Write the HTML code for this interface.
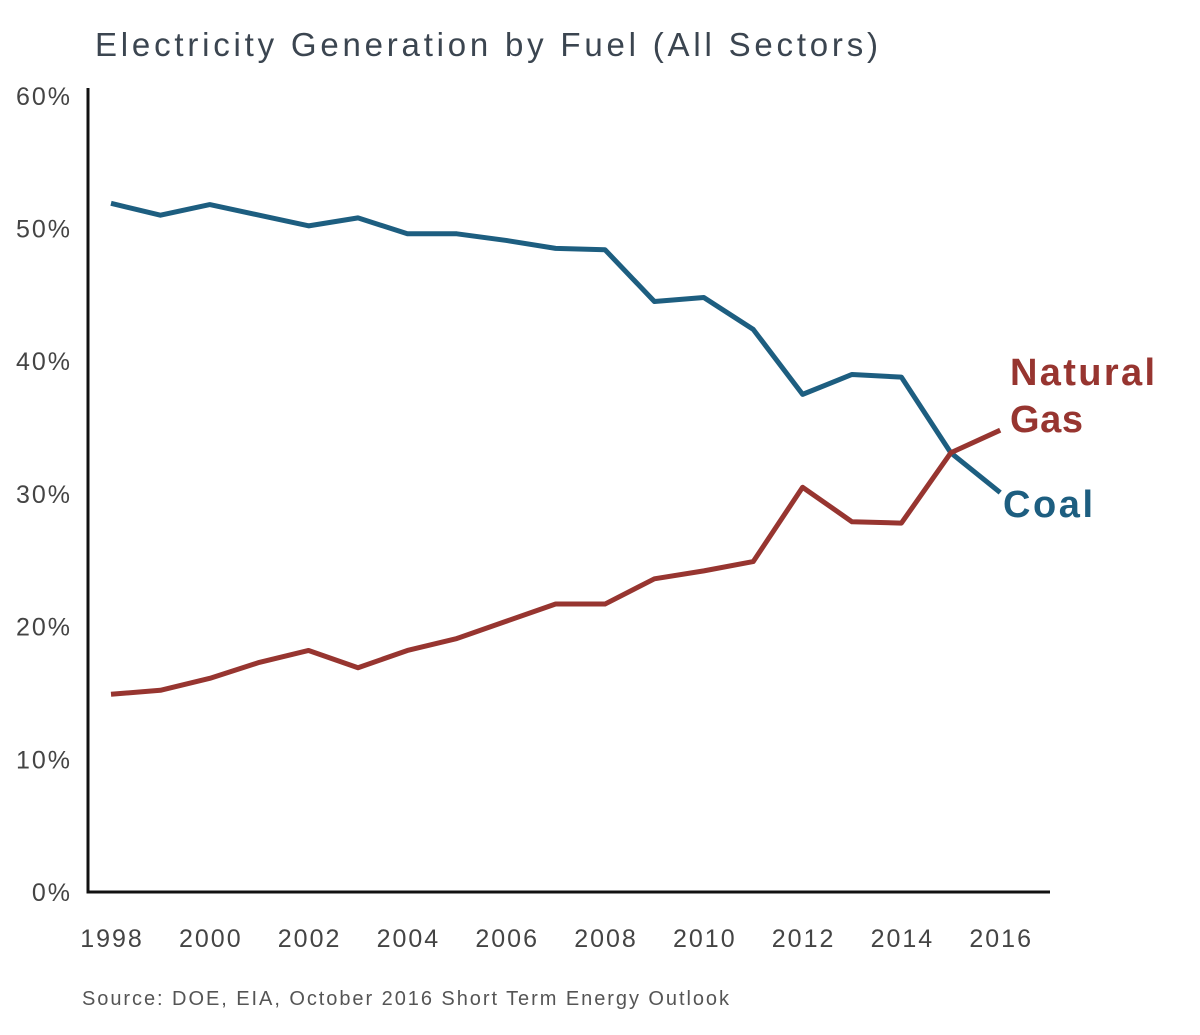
<!DOCTYPE html>
<html><head><meta charset="utf-8"><style>
body{margin:0;background:#fff;}
svg{display:block;font-family:"Liberation Sans",sans-serif;}
</style></head><body>
<svg id="chart" width="1200" height="1035">
<text x="95" y="56" font-size="33" fill="#3b4550" textLength="783" lengthAdjust="spacing">Electricity Generation by Fuel (All Sectors)</text>
<g id="axes"></g>
<g id="series"></g>
<text x="1010" y="385" font-size="38" font-weight="bold" fill="#973530" textLength="145" lengthAdjust="spacing">Natural</text>
<text x="1010" y="432" font-size="38" font-weight="bold" fill="#973530" textLength="73" lengthAdjust="spacing">Gas</text>
<text x="1003" y="517" font-size="38" font-weight="bold" fill="#1d5e80" textLength="90" lengthAdjust="spacing">Coal</text>
<text x="82" y="1005" font-size="20" fill="#555" textLength="647" lengthAdjust="spacing">Source: DOE, EIA, October 2016 Short Term Energy Outlook</text>
</svg>
<script>
const years=[1998,1999,2000,2001,2002,2003,2004,2005,2006,2007,2008,2009,2010,2011,2012,2013,2014,2015,2016];
const coal=[51.9,51.0,51.8,51.0,50.2,50.8,49.6,49.6,49.1,48.5,48.4,44.5,44.8,42.4,37.5,39.0,38.8,33.1,30.1];
const gas=[14.9,15.2,16.1,17.3,18.2,16.9,18.2,19.1,20.4,21.7,21.7,23.6,24.2,24.9,30.5,27.9,27.8,33.1,34.8];
const yTicks=[0,10,20,30,40,50,60];
const xTicks=[1998,2000,2002,2004,2006,2008,2010,2012,2014,2016];
const NS="http://www.w3.org/2000/svg";
const xs=y=>111+(y-1998)*49.4;
const ys=v=>892-v*13.27;
const axes=document.getElementById('axes'),ser=document.getElementById('series');
function mk(tag,attrs,parent,txt){const e=document.createElementNS(NS,tag);for(const k in attrs)e.setAttribute(k,attrs[k]);if(txt!==undefined)e.textContent=txt;parent.appendChild(e);return e;}
let a=mk('line',{x1:88,y1:88,x2:88,y2:893,stroke:'#111','stroke-width':3},axes);


a=mk('line',{x1:86.5,y1:892,x2:1050,y2:892,stroke:'#111','stroke-width':3},axes);


yTicks.forEach(t=>{const e=mk('text',{x:72,y:ys(t)+9,'font-size':25,fill:'#444','text-anchor':'end','letter-spacing':2},axes,t+'%');

});
xTicks.forEach(t=>{const e=mk('text',{x:xs(t)+1,y:947,'font-size':25,fill:'#444','text-anchor':'middle','letter-spacing':2},axes,String(t));

});
function line(vals,color,name){const p=mk('polyline',{points:vals.map((v,i)=>xs(years[i])+','+ys(v)).join(' '),fill:'none',stroke:color,'stroke-width':5,'stroke-linejoin':'round'},ser);

}
line(coal,'#1d5e80','coal-line');
line(gas,'#973530','natural-gas-line');
</script>
</body></html>
